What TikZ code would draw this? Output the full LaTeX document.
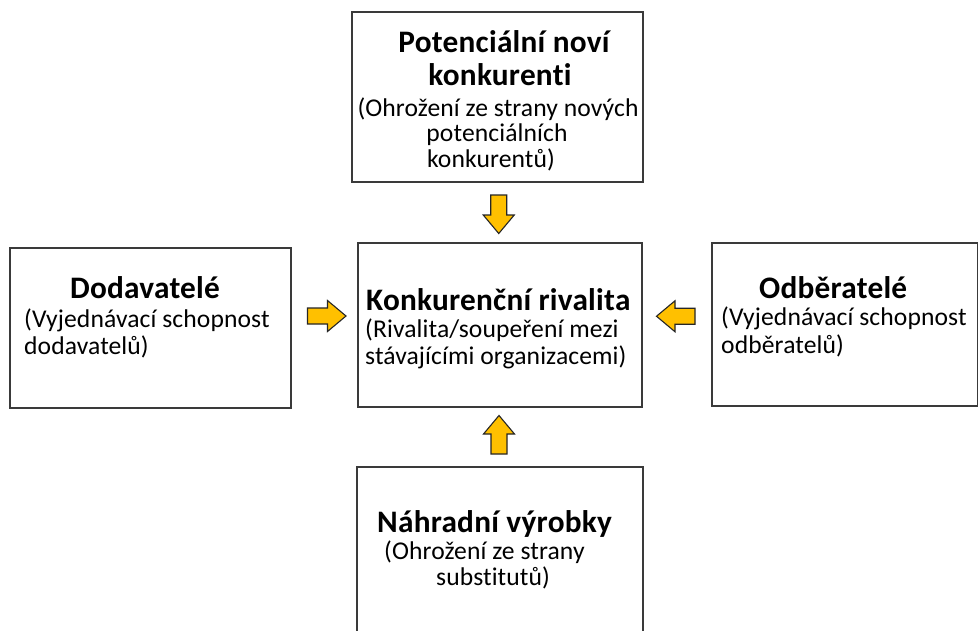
\documentclass[tikz,border=0pt]{standalone}
\usepackage{fontspec}
\setmainfont[Ligatures=NoCommon]{Carlito}
\usetikzlibrary{calc}

\tikzset{
  box/.style={draw=boxline, line width=1.6pt, fill=white, inner sep=0pt},
  ttl/.style={anchor=base, inner sep=0pt, font=\fontsize{31.3}{32}\selectfont\bfseries\addfontfeature{LetterSpace=0.8}},
  txt/.style={anchor=base, inner sep=0pt, font=\fontsize{25.6}{26}\selectfont\addfontfeature{LetterSpace=0.4}},
  txtl/.style={txt, anchor=base west},
  ttll/.style={ttl, anchor=base west},
  arrowfill/.style={fill=arrowyellow, draw=black!85, line width=1.1pt, line join=miter},
  pics/blockarrow/.style={code={
    \draw[arrowfill] (-19,-8) -- (1,-8) -- (1,-15.5) -- (19.5,0) -- (1,15.5) -- (1,8) -- (-19,8) -- cycle;
  }}
}
\definecolor{boxline}{HTML}{3A3A3A}
\definecolor{arrowyellow}{HTML}{FFC000}

\begin{document}
\begin{tikzpicture}[x=1pt, y=-1pt]
  \useasboundingbox (0,0) rectangle (978,630);
  \clip (0,0) rectangle (978,630);
  \fill[white] (0,0) rectangle (978,630);

  % the five forces boxes
  \node[box, minimum width=291pt, minimum height=170pt] (pot) at (497.5,97) {};
  \node[box, minimum width=281pt, minimum height=160pt] (dod) at (150.5,328) {};
  \node[box, minimum width=284pt, minimum height=164pt] (riv) at (500,325) {};
  \node[box, minimum width=266pt, minimum height=163pt] (odb) at (845,324.5) {};
  \node[box, minimum width=286pt, minimum height=200pt] (nah) at (500,567) {};

  % labels: new entrants
  \node[ttl] (pot1) at (504,52) {Potenciální noví};
  \node[ttl] (pot2) at (500,85) {konkurenti};
  \node[txt] (pot3) at (498,116) {(Ohrožení ze strany nových};
  \node[txt] (pot4) at (497,141) {potenciálních};
  \node[txt] (pot5) at (491,167) {konkurentů)};

  % labels: suppliers
  \node[ttl] (dod1) at (145,298) {Dodavatelé};
  \node[txtl] (dod2) at (24,327) {(Vyjednávací schopnost};
  \node[txtl] (dod3) at (24,354) {dodavatelů)};

  % labels: rivalry
  \node[ttll] (riv1) at (366,310) {Konkurenční rivalita};
  \node[txtl] (riv2) at (365,337) {(Rivalita/soupeření mezi};
  \node[txtl] (riv3) at (365,364) {stávajícími organizacemi)};

  % labels: buyers
  \node[ttll] (odb1) at (759,298) {Odběratelé};
  \node[txtl] (odb2) at (721,325) {(Vyjednávací schopnost};
  \node[txtl] (odb3) at (721,353) {odběratelů)};

  % labels: substitutes
  \node[ttll] (nah1) at (377,532) {Náhradní výrobky};
  \node[txtl] (nah2) at (384,559) {(Ohrožení ze strany};
  \node[txtl] (nah3) at (436,585) {substitutů)};

  % block arrows pointing at the rivalry box
  \coordinate (aTop) at ($(pot.south)!0.5!(riv.north)+(0,1.5)$);
  \coordinate (aLeft) at ($(dod.east)!0.5!(riv.west)+(2,-10.5)$);
  \coordinate (aRight) at ($(odb.west)!0.5!(riv.east)+(-1,-8.5)$);
  \coordinate (aBot) at ($(nah.north)!0.5!(riv.south)+(-1,-2)$);
  \pic[rotate=-90] at (aTop) {blockarrow};
  \pic at (aLeft) {blockarrow};
  \pic[rotate=180] at (aRight) {blockarrow};
  \pic[rotate=90] at (aBot) {blockarrow};
\end{tikzpicture}
\end{document}
